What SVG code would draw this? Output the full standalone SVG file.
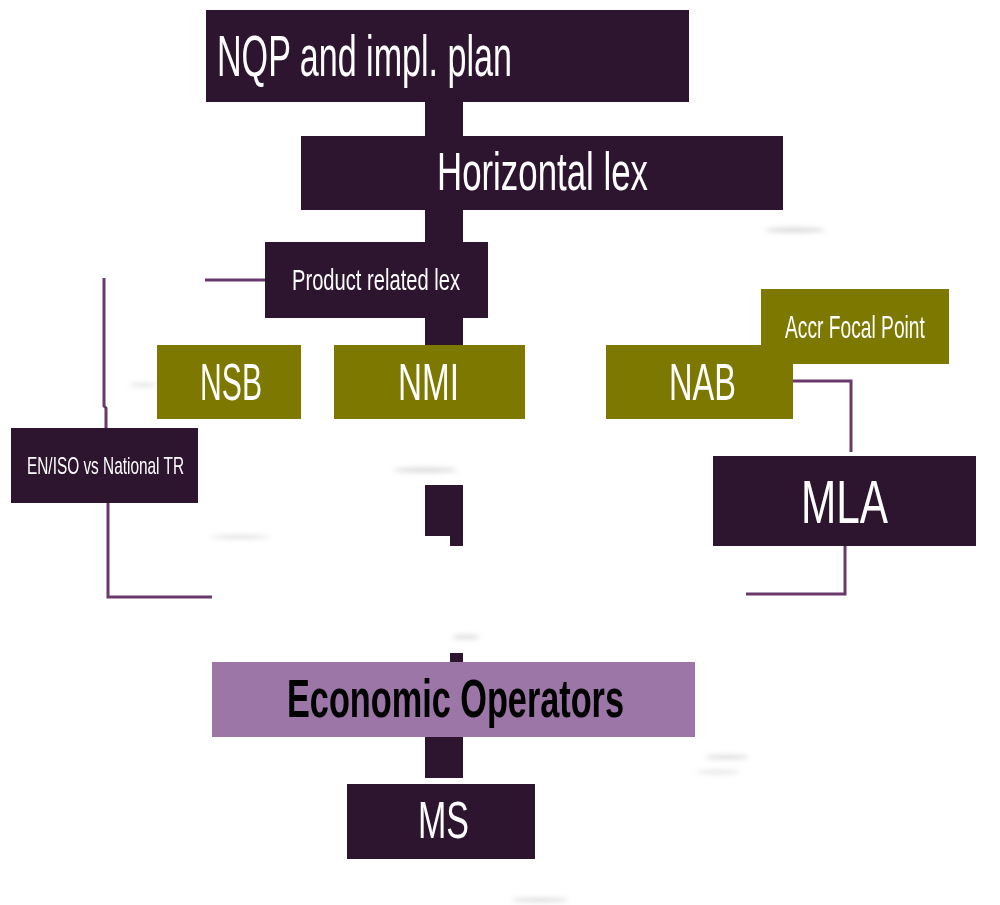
<svg xmlns="http://www.w3.org/2000/svg" width="1000" height="905" viewBox="0 0 1000 905">
<style>
.dark{fill:#2d1530}
.olive{fill:#7d7800}
.eo{fill:#9b76a7}
.t{font-family:"Liberation Sans Narrow","Liberation Sans","DejaVu Sans Condensed",sans-serif;fill:#ffffff}
.b{font-family:"Liberation Sans Narrow","Liberation Sans",sans-serif;font-weight:bold;fill:#000000}
.line{fill:none;stroke:#6b386b;stroke-width:3}
.sh{fill:#a0a0a0;opacity:0.4}
</style>
<defs>
<filter id="blur" x="-50%" y="-200%" width="200%" height="500%"><feGaussianBlur stdDeviation="2.5"/></filter>
</defs>
<rect width="1000" height="905" fill="#ffffff"/>
<g id="shadows" filter="url(#blur)">
<ellipse class="sh" cx="795" cy="230" rx="30" ry="2.5"/>
<ellipse class="sh" cx="425" cy="470" rx="32" ry="2.5"/>
<ellipse class="sh" cx="240" cy="537" rx="30" ry="1.5"/>
<ellipse class="sh" cx="466" cy="637" rx="14" ry="2"/>
<ellipse class="sh" cx="727" cy="757" rx="22" ry="2"/>
<ellipse class="sh" cx="718" cy="772" rx="22" ry="1.5"/>
<ellipse class="sh" cx="540" cy="900" rx="28" ry="2"/>
<ellipse class="sh" cx="143" cy="385" rx="14" ry="1.5"/>
</g>
<g id="connectors">
<rect class="dark" x="425" y="100" width="38" height="246"/>
<path class="dark" d="M425 485 H463 V546 H450 V536 H425 Z"/>
<rect class="dark" x="450" y="653" width="13" height="10"/>
<rect class="dark" x="425" y="736" width="38" height="42"/>
<path class="line" d="M265 280 H205"/>
<path class="line" d="M104 278 V406 L106 408 V429"/>
<path class="line" d="M108 503 V597 H212"/>
<path class="line" d="M793 381 H851 V452"/>
<path class="line" d="M845 546 V594 H746"/>
</g>
<g id="nqp">
<rect class="dark" x="206" y="10" width="483" height="92"/>
<text class="t" x="217" y="76" font-size="58" textLength="295" lengthAdjust="spacingAndGlyphs">NQP and impl. plan</text>
</g>
<g id="horizontal-lex">
<rect class="dark" x="301" y="136" width="482" height="74"/>
<text class="t" x="437" y="190" font-size="54" textLength="211" lengthAdjust="spacingAndGlyphs">Horizontal lex</text>
</g>
<g id="product-lex">
<rect class="dark" x="265" y="242" width="223" height="76"/>
<text class="t" x="292" y="290" font-size="30" textLength="168" lengthAdjust="spacingAndGlyphs">Product related lex</text>
</g>
<g id="nsb">
<rect class="olive" x="157" y="345" width="144" height="74"/>
<text class="t" x="200" y="400" font-size="52" textLength="62" lengthAdjust="spacingAndGlyphs">NSB</text>
</g>
<g id="nmi">
<rect class="olive" x="334" y="345" width="191" height="74"/>
<text class="t" x="398" y="400" font-size="52" textLength="61" lengthAdjust="spacingAndGlyphs">NMI</text>
</g>
<g id="accr">
<rect class="olive" x="761" y="289" width="188" height="75"/>
<text class="t" transform="translate(785,338) scale(0.62,1)" x="0" y="0" font-size="31">Accr Focal Point</text>
</g>
<g id="nab">
<rect class="olive" x="606" y="345" width="187" height="74"/>
<text class="t" x="669" y="400" font-size="52" textLength="67" lengthAdjust="spacingAndGlyphs">NAB</text>
</g>
<g id="en-iso">
<rect class="dark" x="11" y="428" width="187" height="75"/>
<text class="t" x="27" y="474" font-size="24" textLength="157" lengthAdjust="spacingAndGlyphs">EN/ISO vs National TR</text>
</g>
<g id="mla">
<rect class="dark" x="713" y="456" width="263" height="90"/>
<text class="t" x="801" y="523" font-size="62" textLength="87" lengthAdjust="spacingAndGlyphs">MLA</text>
</g>
<g id="economic-operators">
<rect class="eo" x="212" y="662" width="483" height="75"/>
<text class="b" x="287" y="717" font-size="54" textLength="337" lengthAdjust="spacingAndGlyphs">Economic Operators</text>
</g>
<g id="ms">
<rect class="dark" x="347" y="784" width="188" height="75"/>
<text class="t" x="418" y="838" font-size="52" textLength="51" lengthAdjust="spacingAndGlyphs">MS</text>
</g>
</svg>
